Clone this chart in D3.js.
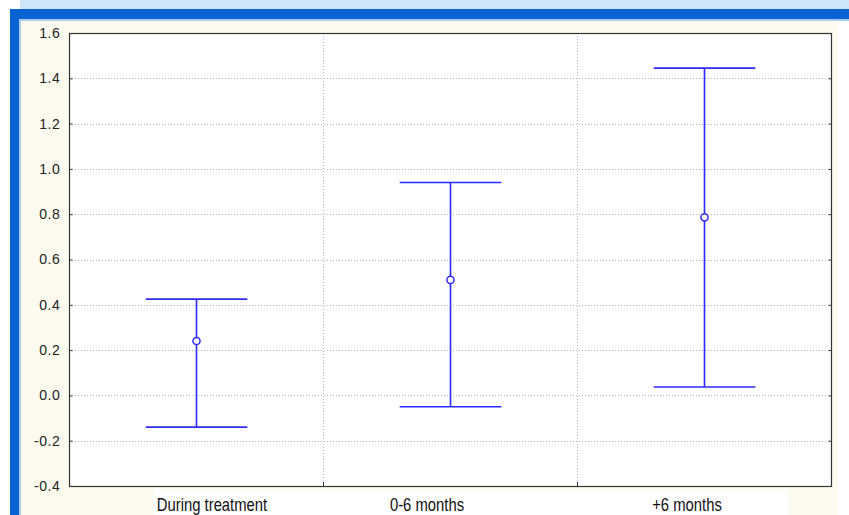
<!DOCTYPE html>
<html><head><meta charset="utf-8">
<script src="https://cdn.jsdelivr.net/npm/d3@7"></script>
<style>body{margin:0;background:#fff;}svg{display:block;}</style>
</head><body>
<svg id="chart" width="849" height="515"></svg>
<script>
const categories = ["During treatment", "0-6 months", "+6 months"];
const means = [0.24, 0.51, 0.786];
const upper = [0.425, 0.94, 1.445];
const lower = [-0.14, -0.05, 0.037];
const yTicks = [-0.4, -0.2, 0.0, 0.2, 0.4, 0.6, 0.8, 1.0, 1.2, 1.4, 1.6];

const svg = d3.select("#chart");
const W = 849, H = 515;
const plot = {left: 69, right: 831, top: 33, bottom: 486};

// window frame
svg.append("rect").attr("x", 20).attr("y", 0).attr("width", W - 20).attr("height", 9).attr("fill", "#cfe5f8");
svg.append("rect").attr("x", 10).attr("y", 9).attr("width", W - 10).attr("height", 10).attr("fill", "#0b63d3");
svg.append("rect").attr("x", 10).attr("y", 9).attr("width", 9).attr("height", H - 9).attr("fill", "#0b63d3");
svg.append("rect").attr("x", 19).attr("y", 19).attr("width", W - 19).attr("height", 2).attr("fill", "#a9cdf2");
svg.append("rect").attr("x", 19).attr("y", 19).attr("width", 2).attr("height", H - 19).attr("fill", "#a9cdf2");
// cream panel
svg.append("rect").attr("x", 21).attr("y", 21).attr("width", 817).attr("height", H - 21).attr("fill", "#fdfaf0");
// label strip
svg.append("rect").attr("x", 154).attr("y", 489).attr("width", 634).attr("height", H - 489).attr("fill", "#ffffff");

const x = d3.scaleBand().domain(categories).range([plot.left, plot.right]).padding(0);
const y = d3.scaleLinear().domain([-0.4, 1.6]).range([plot.bottom, plot.top]);

// plot background
svg.append("rect").attr("x", plot.left).attr("y", plot.top)
  .attr("width", plot.right - plot.left).attr("height", plot.bottom - plot.top).attr("fill", "#ffffff");

// horizontal grid
svg.append("g").selectAll("line").data(yTicks.slice(1, -1)).join("line")
  .attr("x1", plot.left).attr("x2", plot.right)
  .attr("y1", d => Math.round(y(d)) + 0.5).attr("y2", d => Math.round(y(d)) + 0.5)
  .attr("stroke", "#b8b8b8").attr("stroke-width", 1).attr("stroke-dasharray", "1,2");
// vertical grid at band boundaries
const bounds = categories.slice(1).map(c => x(c));
svg.append("g").selectAll("line").data(bounds).join("line")
  .attr("x1", d => Math.round(d) + 0.5).attr("x2", d => Math.round(d) + 0.5)
  .attr("y1", plot.top).attr("y2", plot.bottom)
  .attr("stroke", "#b8b8b8").attr("stroke-width", 1).attr("stroke-dasharray", "1,2");

// left axis
const fmt = d3.format(".1f");
const yAxis = d3.axisLeft(y).tickValues(yTicks).tickFormat(d => fmt(d).replace("\u2212", "-")).tickSize(-3).tickPadding(10);
const gy = svg.append("g").attr("transform", `translate(${plot.left + 0.5},0)`).call(yAxis);
gy.select(".domain").remove();
gy.selectAll(".tick line").attr("stroke", "#333");
gy.selectAll(".tick text").attr("font-family", "Liberation Sans, Arial, sans-serif")
  .attr("font-size", 14).attr("fill", "#222").attr("x", -9).attr("letter-spacing", 0.6);
// right axis ticks
const gr = svg.append("g").attr("transform", `translate(${plot.right + 0.5},0)`)
  .call(d3.axisRight(y).tickValues(yTicks).tickSize(-3).tickFormat(""));
gr.select(".domain").remove();
gr.selectAll(".tick line").attr("stroke", "#333");

// frame
svg.append("rect").attr("x", plot.left + 0.5).attr("y", plot.top + 0.5)
  .attr("width", plot.right - plot.left).attr("height", plot.bottom - plot.top)
  .attr("fill", "none").attr("stroke", "#333").attr("stroke-width", 1.2);
// bottom ticks at boundaries
svg.append("g").selectAll("line").data(bounds).join("line")
  .attr("x1", d => Math.round(d) + 0.5).attr("x2", d => Math.round(d) + 0.5)
  .attr("y1", plot.bottom).attr("y2", plot.bottom - 4).attr("stroke", "#333");

// category labels (condensed look)
const labelShift = [16, -23, -17];
const labels = svg.append("g").selectAll("text").data(categories).join("text")
  .attr("x", (d, i) => x(d) + x.bandwidth() / 2 + labelShift[i])
  .attr("y", 511)
  .attr("text-anchor", "middle")
  .attr("font-family", "Liberation Sans Narrow, Arial Narrow, Liberation Sans, sans-serif")
  .attr("font-size", 19).attr("fill", "#111")
  .text(d => d);
labels.each(function() {
  const len = this.getComputedTextLength();
  d3.select(this).attr("textLength", len * 0.78).attr("lengthAdjust", "spacingAndGlyphs");
});

// error bars
const blue = "#2b2bff";
const capHalf = x.bandwidth() * 0.2;
const g = svg.append("g");
categories.forEach((c, i) => {
  const cx = Math.round(x(c) + x.bandwidth() / 2) + 0.5;
  g.append("line").attr("x1", cx).attr("x2", cx).attr("y1", y(upper[i])).attr("y2", y(lower[i]))
    .attr("stroke", blue).attr("stroke-width", 1.6);
  [upper[i], lower[i]].forEach(v => {
    g.append("line").attr("x1", cx - capHalf).attr("x2", cx + capHalf)
      .attr("y1", y(v)).attr("y2", y(v)).attr("stroke", blue).attr("stroke-width", 1.6);
  });
  g.append("path")
    .attr("d", d3.symbol().type(d3.symbolCircle).size(40)())
    .attr("transform", `translate(${cx},${y(means[i])})`)
    .attr("fill", "#fff").attr("stroke", blue).attr("stroke-width", 1.5);
});
</script>
</body></html>
